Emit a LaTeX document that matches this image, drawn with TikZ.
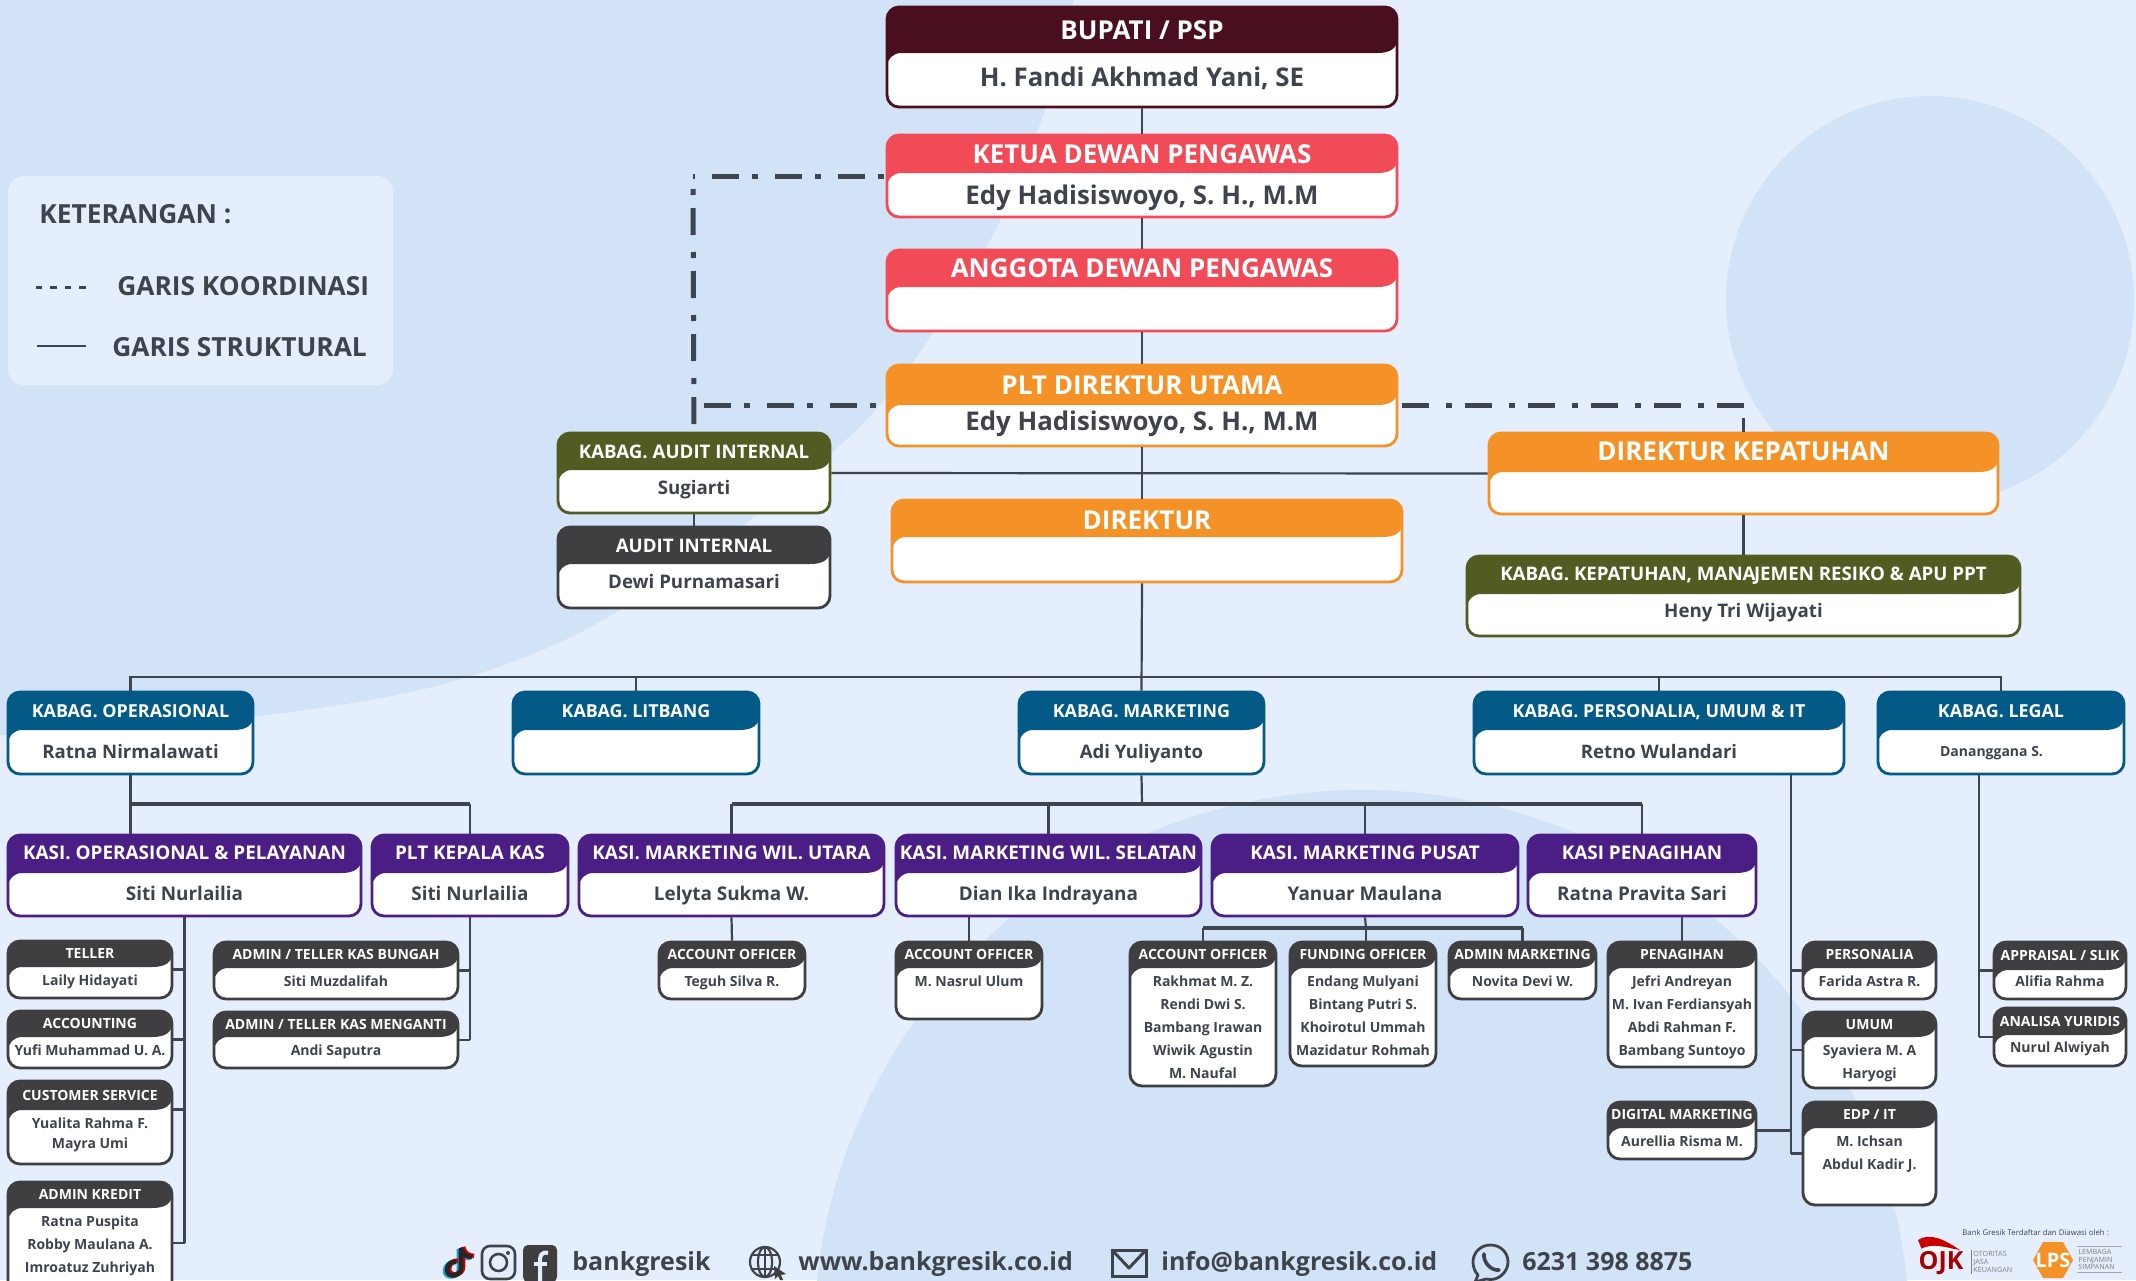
\documentclass[tikz,border=0pt]{standalone}
\usepackage{fontspec}
\setmainfont{Open Sans}
\def\osb{\bfseries}
\definecolor{bgl}{HTML}{E5EEFC}
\definecolor{bgd}{HTML}{D2E3F8}
\definecolor{cbup}{HTML}{4A0F1F}
\definecolor{cred}{HTML}{F24B58}
\definecolor{corg}{HTML}{F59227}
\definecolor{coli}{HTML}{525B22}
\definecolor{cgry}{HTML}{3F3F41}
\definecolor{cblu}{HTML}{045A87}
\definecolor{cpur}{HTML}{4A1E85}
\definecolor{ctext}{HTML}{3F444C}
\definecolor{cline}{HTML}{3F4550}
\tikzset{
  cardbox/.style={fill=white,rounded corners=6pt,inner sep=0pt,line width=1.4pt},
  conn/.style={draw=cline,line width=1.1pt},
  connb/.style={draw=cline,line width=1.7pt},
  ddot/.style={draw=cline,line width=2.5pt,dash pattern=on 3pt off 6.5pt on 13.5pt off 8.5pt},
  legtxt/.style={font=\osb\fontsize{13.15}{16}\selectfont,text=ctext,anchor=west,inner sep=0pt},
  foot/.style={font=\osb\fontsize{12.5}{15}\selectfont,text=ctext,anchor=base west,inner sep=0pt},
  ico/.style={draw=ctext,line width=1.1pt},
}
\def\parsek#1/#2/#3\relax{\def\kc{#1}\def\kt{#2}\def\kb{#3}}
\def\mls{11.5}
\def\bdy{1.5}
\def\tdy{1.5}
% name x1 y1 x2 y2 hb colour/titlesize/bodysize title body
\newcommand{\cardbase}[8]{%
  \parsek#7\relax
  \pgfmathsetmacro\cw{(#4-#2)*0.5}\pgfmathsetmacro\ch{(#5-#3)*0.5}
  \node[cardbox,draw=\kc,minimum width=\cw pt,minimum height=\ch pt] (#1) at ({(#2+#4)/2},{(#3+#5)/2}) {};
  \fill[\kc] ({#2},{#3+12}) .. controls ({#2},{#3+5}) and ({#2+5},{#3}) .. ({#2+12},{#3}) -- ({#4-12},{#3}) .. controls ({#4-5},{#3}) and ({#4},{#3+5}) .. ({#4},{#3+12})
     -- ({#4},{#6-14}) .. controls ({#4},{#6-5}) and ({#4-6},{#6}) .. ({#4-20},{#6}) -- ({#2+14},{#6}) .. controls ({#2+6},{#6}) and ({#2},{#6+6}) .. ({#2},{#6+14}) -- cycle;
  \node[font=\osb\fontsize{\kt}{\kt}\selectfont,text=white,inner sep=0pt] (#1-t) at ({(#2+#4)/2},{(#3+#6)/2+\tdy}) {\vphantom{A,}#8};
}
\newcommand{\card}[9]{%
  \cardbase{#1}{#2}{#3}{#4}{#5}{#6}{#7}{#8}
  \node[font=\osb\fontsize{\kb}{\kb}\selectfont,text=ctext,inner sep=0pt] (#1-b) at ({(#2+#4)/2},{(#6+#5)/2+\bdy}) {\vphantom{Ag,}#9};
}
\newcommand{\mcard}[9]{%
  \cardbase{#1}{#2}{#3}{#4}{#5}{#6}{#7}{#8}
  \node[font=\osb\fontsize{\kb}{\mls}\selectfont,text=ctext,inner sep=0pt,anchor=north,align=center] (#1-b) at ({(#2+#4)/2},{#6+7}) {#9};
}
\begin{document}
\begin{tikzpicture}[x=0.5pt,y=-0.5pt]
\useasboundingbox (0,0) rectangle (2136,1280);
\clip (0,0) rectangle (2136,1280);
% background
\fill[bgl] (0,0) rectangle (2136,1280);
\fill[bgd] (0,0) -- plot[smooth] coordinates {(1074,0) (1045,110) (985,250) (878,407) (746,523) (585,630) (440,685) (259,716) (0,735)} -- cycle;
\fill[bgd] (1930,300) circle[radius=204];
\fill[bgd] (1362,1338) circle[radius=548];
% legend
\node[fill=bgl,rounded corners=8pt,minimum width=192.5pt,minimum height=104.5pt,inner sep=0pt] (legend) at (200.5,280.5) {};
\node[legtxt] (lg1) at (39,214) {KETERANGAN :};
\node[legtxt] (lg2) at (117,286) {GARIS KOORDINASI};
\node[legtxt] (lg3) at (112,347) {GARIS STRUKTURAL};
\coordinate (ld1) at (36,287); \coordinate (ld2) at (92,287);
\coordinate (ls1) at (37,346); \coordinate (ls2) at (86,346);
\draw[cline,line width=1.5pt,dash pattern=on 3.2pt off 4pt] (ld1) -- (ld2);
\draw[cline,line width=1.2pt] (ls1) -- (ls2);
% top column
\def\bdy{0}
\card{bupati}{887}{7}{1397}{107}{53}{cbup/13/12.9}{BUPATI / PSP}{H. Fandi Akhmad Yani, SE}
\def\bdy{2.5}
\card{ketua}{887}{135}{1397}{217}{173}{cred/13/12.9}{KETUA DEWAN PENGAWAS}{Edy Hadisiswoyo, S. H., M.M}
\card{anggota}{887}{250}{1397}{331}{287}{cred/13/12.9}{ANGGOTA DEWAN PENGAWAS}{}
\def\bdy{-2}
\card{plt}{887}{365}{1397}{446}{405}{corg/13/12.9}{PLT DIREKTUR UTAMA}{Edy Hadisiswoyo, S. H., M.M}
\def\tdy{3}
\card{dir}{892}{500}{1402}{582}{537}{corg/13/12.9}{DIREKTUR}{}
\def\tdy{0.5}
\card{kepat}{1489}{433}{1998}{514}{472}{corg/13/12.9}{DIREKTUR KEPATUHAN}{}
\card{kmr}{1467}{556}{2020}{636}{594}{coli/9.35/9.35}{KABAG. KEPATUHAN, MANA\kern-0.8pt JEMEN RESIKO \& APU PPT}{Heny Tri Wijayati}
\def\tdy{1.5}
\card{kaudit}{558}{433}{830}{513}{470}{coli/9.35/9.35}{KABAG. AUDIT INTERNAL}{Sugiarti}
\card{audit}{558}{527}{830}{608}{564}{cgry/9.35/9.35}{AUDIT INTERNAL}{Dewi Purnamasari}
% kabag row
\def\bdy{1.5}
\card{kop}{8}{692}{253}{774}{730}{cblu/8.95/9.3}{KABAG. OPERASIONAL}{Ratna Nirmalawati}
\card{klit}{513}{692}{759}{774}{730}{cblu/8.95/9.3}{KABAG. LITBANG}{}
\card{kmar}{1019}{692}{1264}{774}{730}{cblu/8.95/9.3}{KABAG. MARKETING}{Adi Yuliyanto}
\card{kper}{1474}{692}{1844}{774}{730}{cblu/8.95/9.3}{KABAG. PERSONALIA, UMUM \& IT}{Retno Wulandari}
\card{kleg}{1878}{692}{2124}{774}{730}{cblu/8.95/7}{KABAG. LEGAL}{Dananggana S.\hspace*{9.5pt}}
% kasi row
\def\tdy{0}
\card{kasiop}{8}{835}{361}{916}{873}{cpur/9.45/9.45}{KASI. OPERASIONAL \& PELAYANAN}{Siti Nurlailia}
\card{kas}{372}{835}{568}{916}{873}{cpur/9.45/9.45}{PLT KEPALA KAS}{Siti Nurlailia}
\card{kutara}{579}{835}{884}{916}{873}{cpur/9.45/9.45}{KASI. MARKETING WIL. UTARA}{Lelyta Sukma W.}
\card{ksel}{896}{835}{1201}{916}{873}{cpur/9.45/9.45}{KASI. MARKETING WIL. SELATAN}{Dian Ika Indrayana}
\card{kpus}{1212}{835}{1518}{916}{873}{cpur/9.45/9.45}{KASI. MARKETING PUSAT}{Yanuar Maulana}
\card{kpen}{1528}{835}{1756}{916}{873}{cpur/9.45/9.45}{KASI PENAGIHAN}{Ratna Pravita Sari}
% small boxes
\def\bdy{-1}
\def\tdy{0.5}
\card{teller}{8}{941}{172}{998}{967}{cgry/7/7}{TELLER}{Laily Hidayati}
\card{acc}{8}{1011}{172}{1068}{1037}{cgry/7/7}{ACCOUNTING}{Yufi Muhammad U. A.}
\def\mls{10}
\mcard{cs}{8}{1081}{172}{1164}{1110}{cgry/7/7}{CUSTOMER SERVICE}{Yualita Rahma F.\\Mayra Umi}
\def\mls{11.5}
\mcard{akr}{8}{1182}{172}{1304}{1208}{cgry/7/7}{ADMIN KREDIT}{Ratna Puspita\\Robby Maulana A.\\Imroatuz Zuhriyah}
\card{bunga}{214}{942}{458}{999}{968}{cgry/7/7}{ADMIN / TELLER KAS BUNGAH}{Siti Muzdalifah}
\card{meng}{214}{1012}{458}{1068}{1037}{cgry/7/7}{ADMIN / TELLER KAS MENGANTI}{Andi Saputra}
\card{teguh}{659}{942}{805}{999}{968}{cgry/7/7}{ACCOUNT OFFICER}{Teguh Silva R.}
\mcard{nasrul}{896}{942}{1042}{1019}{968}{cgry/7/7}{ACCOUNT OFFICER}{M. Nasrul Ulum}
\mcard{aom}{1130}{942}{1276}{1086}{968}{cgry/7/7}{ACCOUNT OFFICER}{Rakhmat M. Z.\\Rendi Dwi S.\\Bambang Irawan\\Wiwik Agustin\\M. Naufal}
\mcard{fund}{1290}{942}{1436}{1066}{968}{cgry/7/7}{FUNDING OFFICER}{Endang Mulyani\\Bintang Putri S.\\Khoirotul Ummah\\Mazidatur Rohmah}
\card{adm}{1449}{942}{1596}{999}{968}{cgry/7/7}{ADMIN MARKETING}{Novita Devi W.}
\mcard{penag}{1608}{942}{1756}{1067}{968}{cgry/7/7}{PENAGIHAN}{Jefri Andreyan\\M. Ivan Ferdiansyah\\Abdi Rahman F.\\Bambang Suntoyo}
\card{digi}{1608}{1102}{1756}{1159}{1128}{cgry/7/7}{DIGITAL MARKETING}{Aurellia Risma M.}
\card{pers}{1803}{942}{1936}{999}{968}{cgry/7/7}{PERSONALIA}{Farida Astra R.}
\mcard{umum}{1803}{1012}{1936}{1088}{1037}{cgry/7/7}{UMUM}{Syaviera M. A\\Haryogi}
\mcard{edp}{1803}{1102}{1936}{1205}{1128}{cgry/7/7}{EDP / IT}{M. Ichsan\\Abdul Kadir J.}
\def\bdy{-2}
\card{appr}{1994}{942}{2126}{999}{970}{cgry/7/7}{APPRAISAL / SLIK}{Alifia Rahma}
\card{anal}{1994}{1008}{2126}{1066}{1035}{cgry/7/7}{ANALISA YURIDIS}{Nurul Alwiyah}
% coordination lines
\coordinate (cTL) at (693,176);
\coordinate (cTR) at (1746,405.5);
\draw[ddot,dash phase=30.5pt] (ketua.west) -- (ketua.west -| cTL);
\draw[ddot,dash phase=25pt] (ketua.west -| cTL) -- (kaudit.north);
\draw[ddot,dash phase=26.5pt] (plt.west) -- (plt.west -| cTL);
\draw[ddot,dash phase=7.5pt] (plt.east) -- (cTR);
\draw[cline,line width=1.6pt] (kepat.north) -- ++(0,-14);
% structural lines
\draw[conn] (bupati.south) -- (ketua.north);
\draw[conn] (ketua.south) -- (anggota.north);
\draw[conn] (anggota.south) -- (plt.north);
\draw[conn] (plt.south) -- (plt.south |- dir.north);
\draw[conn] (plt.south |- dir.south) -- (kmar.north);
\draw[conn] (kaudit.east) -- (kepat.west);
\draw[conn] (kaudit.south) -- (audit.north);
\draw[conn] (kepat.south) -- (kmr.north);
\coordinate (bus1) at (1142,677);
\coordinate (bus2) at (1142,804);
\coordinate (bus3) at (1366,928);
\draw[conn] (kop.north) -- (kop.north |- bus1) -- (kleg.north |- bus1) -- (kleg.north);
\draw[conn] (klit.north) -- (klit.north |- bus1);
\draw[conn] (kper.north) -- (kper.north |- bus1);
\draw[conn] (kop.south) -- (kop.south |- kasiop.north);
\draw[connb] (kop.south |- bus2) -- (kas.north |- bus2);
\draw[conn] (kas.north |- bus2) -- (kas.north);
\draw[conn] (kmar.south) -- (bus2);
\draw[connb] (kutara.north |- bus2) -- (kpen.north |- bus2);
\draw[conn] (kutara.north) -- (kutara.north |- bus2);
\draw[conn] (ksel.north) -- (ksel.north |- bus2);
\draw[conn] (kpus.north) -- (kpus.north |- bus2);
\draw[conn] (kpen.north) -- (kpen.north |- bus2);
\draw[conn] (kutara.south) -- (teguh.north);
\draw[conn] (nasrul.north) -- (nasrul.north |- ksel.south);
\draw[conn] (kpus.south) -- (bus3);
\draw[connb] (aom.north |- bus3) -- (adm.north |- bus3);
\draw[conn] (aom.north) -- (aom.north |- bus3);
\draw[conn] (adm.north) -- (adm.north |- bus3);
\draw[conn] (bus3) -- (bus3 |- fund.north);
\draw[conn] (penag.north) -- (penag.north |- kpen.south);
\draw[conn] (kasiop.south) -- (kasiop.south |- akr.east);
\draw[conn] (teller.east) -- (teller.east -| kasiop.south);
\draw[conn] (acc.east) -- (acc.east -| kasiop.south);
\draw[conn] ([yshift=6.5pt]cs.east) -- ([yshift=6.5pt]cs.east -| kasiop.south);
\draw[conn] (akr.east) -- (akr.east -| kasiop.south);
\draw[conn] (kas.south) -- (kas.south |- meng.east);
\draw[conn] (bunga.east) -- (bunga.east -| kas.south);
\draw[conn] (meng.east) -- (meng.east -| kas.south);
\coordinate (pv) at (1791,774);
\coordinate (lv) at (1979,774);
\draw[conn] (pv) -- (pv |- edp.west);
\draw[conn] (pers.west) -- (pers.west -| pv);
\draw[conn] (umum.west) -- (umum.west -| pv);
\draw[conn] (edp.west) -- (edp.west -| pv);
\draw[connb] (digi.east) -- (digi.east -| pv);
\draw[conn] (lv) -- (lv |- anal.west);
\draw[conn] (appr.west) -- (appr.west -| lv);
\draw[conn] (anal.west) -- (anal.west -| lv);
% footer text
\node[foot] (f1) at (572,1270) {bankgresik};
\node[foot] (f2) at (798,1270) {www.bankgresik.co.id};
\node[foot] (f3) at (1161,1270) {info@bankgresik.co.id};
\node[foot] (f4) at (1522,1270) {6231 398 8875};
% tiktok
\foreach \dx/\dy/\cc in {-2/1/cyan!70!teal,2/-1/red!80!black,0/0/black!85}{
  \draw[\cc,line width=2.3pt,shift={(\dx,\dy)}] (461,1248) -- (461,1268) .. controls (461,1277) and (447,1278) .. (447,1270) .. controls (447,1264) and (452,1261) .. (456,1262);
  \draw[\cc,line width=2.3pt,shift={(\dx,\dy)}] (461,1248) .. controls (462,1253) and (466,1257) .. (472,1257);
}
% instagram
\draw[ico,line width=1.3pt,rounded corners=4pt] (482,1246) rectangle (515,1279);
\draw[ico,line width=1.3pt] (498.5,1262.5) circle[radius=8.5];
\fill[ctext] (508,1253) circle[radius=2];
% facebook
\fill[cgry,rounded corners=2.5pt] (523,1245) rectangle (557,1282);
\draw[bgl,line width=2pt] (548,1253) .. controls (541,1251) and (540,1257) .. (540,1260) -- (540,1282);
\draw[bgl,line width=1.8pt] (534,1264) -- (547,1264);
% globe
\draw[ico] (765,1262) circle[radius=15];
\draw[ico] (765,1262) ellipse[x radius=7,y radius=15];
\draw[ico] (765,1247) -- (765,1277);
\draw[ico] (751,1255) -- (779,1255);
\draw[ico] (751,1269) -- (779,1269);
\fill[cgry] (774,1266) -- (786,1274) -- (781,1275) -- (783,1280) -- (780,1280) -- (778,1276) -- (775,1279) -- cycle;
% envelope
\draw[ico,line width=1.5pt] (1112,1250) rectangle (1146,1276);
\draw[ico,line width=1.5pt,line join=round] (1112,1250) -- (1129,1268) -- (1146,1250);
% whatsapp
\draw[ico,line width=1.4pt,line join=round] (1478,1275) -- (1475,1282) -- (1486,1279) .. controls (1498,1282) and (1508,1272) .. (1508,1262) .. controls (1508,1252) and (1500,1245) .. (1490.5,1245) .. controls (1480,1245) and (1473,1253) .. (1473,1262) .. controls (1473,1267) and (1475,1272) .. (1478,1275) -- cycle;
\draw[ctext,line width=1.8pt,line cap=round] (1484,1254) .. controls (1483,1262) and (1491,1271) .. (1499,1270);
% logos
\node[font=\fontsize{3.9}{4.5}\selectfont,text=ctext,inner sep=0pt,anchor=west] (reg) at (1962,1233) {Bank Gresik Terdaftar dan Diawasi oleh :};
\fill[red!80!black] (1918,1240) .. controls (1930,1232) and (1945,1240) .. (1960,1250) .. controls (1945,1248) and (1932,1245) .. (1922,1250) -- cycle;
\fill[white] (1921,1249) .. controls (1932,1243) and (1945,1247) .. (1958,1250) .. controls (1945,1252) and (1932,1252) .. (1925,1253) -- cycle;
\node[font=\bfseries\fontsize{12.5}{14}\selectfont,text=red!65!black,inner sep=0pt] (ojk) at (1941,1263) {OJK};
\draw[gray,line width=0.3pt] (1971,1250) -- (1971,1274);
\node[font=\fontsize{3.6}{4.2}\selectfont,text=gray,inner sep=0pt,anchor=west,align=left] (ojkt) at (1973,1262) {OTORITAS\\JASA\\KEUANGAN};
\fill[corg] (2033,1260) -- (2043,1242) -- (2063,1242) -- (2073,1260) -- (2063,1278) -- (2043,1278) -- cycle;
\node[font=\bfseries\fontsize{10}{10}\selectfont,text=white,inner sep=0pt] (lps) at (2053,1260) {LPS};
\draw[gray!70,line width=0.3pt] (2077,1246) -- (2122,1246);
\draw[gray!70,line width=0.3pt] (2077,1272) -- (2122,1272);
\node[font=\fontsize{3.6}{3.7}\selectfont,text=gray,inner sep=0pt,anchor=west,align=left] (lpst) at (2078,1259.5) {LEMBAGA\\PENJAMIN\\SIMPANAN};
\end{tikzpicture}
\end{document}
